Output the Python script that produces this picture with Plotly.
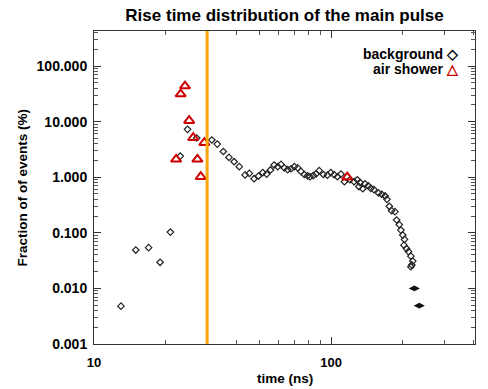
import plotly.graph_objects as go

# background (open diamonds)
bg_time = [13.0, 15.0, 17.0, 19.0, 21.0, 23.1, 24.8, 27.1, 31.4, 33.1, 35.1, 37.1, 39.0, 41.0,
           43.4, 45.2, 47.3, 49.4, 51.5, 53.5, 55.5, 57.5, 59.6, 61.5, 63.5, 65.6, 67.8, 70.0,
           72.3, 74.6, 77.1, 79.6, 81.5, 84.1, 86.5, 89.1, 92.8, 96.5, 99.7, 103, 106.4, 110,
           113.8, 120, 125, 129, 132.5, 131, 136, 139, 143.5, 147, 151.6, 158.5, 163.7, 169,
           172, 176, 180, 186, 189, 194, 197, 200.6, 204, 203, 208, 212, 217, 221, 219, 217]
bg_frac = [0.0048, 0.049, 0.054, 0.0295, 0.103, 2.4, 7.27, 5.07, 4.67, 3.95, 2.9, 2.27, 1.9, 1.55,
           1.10, 1.17, 0.94, 1.05, 1.21, 1.14, 1.35, 1.66, 1.55, 1.70, 1.47, 1.37, 1.42, 1.55,
           1.47, 1.27, 1.12, 1.06, 1.02, 1.07, 1.15, 1.31, 1.12, 1.09, 1.21, 1.11, 1.02, 1.14,
           0.83, 0.90, 0.83, 0.90, 0.80, 0.68, 0.62, 0.76, 0.70, 0.63, 0.60, 0.52, 0.49, 0.46,
           0.40, 0.30, 0.25, 0.24, 0.17, 0.14, 0.112, 0.091, 0.076, 0.060, 0.052, 0.046, 0.038, 0.031,
           0.0264, 0.0245]
# saturated (overlapping) background points
bg_dense_time = [224.5, 235.5]
bg_dense_frac = [0.010, 0.0049]

# air shower (open triangles)
as_time = [24.2, 23.2, 25.2, 26.2, 29.2, 22.2, 27.3, 28.2, 117]
as_frac = [43.6, 31.3, 10.4, 5.13, 4.17, 2.1, 2.1, 1.02, 1.0]

cut_time = 30

x_tick_vals = [10, 100]
y_tick_vals = [0.001, 0.01, 0.1, 1, 10, 100]

FONT = "Liberation Sans"

fig = go.Figure()
fig.add_trace(go.Scatter(x=bg_time, y=bg_frac, mode="markers",
                         marker=dict(symbol="diamond-open", size=5, color="#222",
                                     line=dict(width=1.2, color="#222")),
                         showlegend=False))
fig.add_trace(go.Scatter(x=bg_dense_time, y=bg_dense_frac, mode="markers",
                         marker=dict(symbol="diamond-wide", size=8, color="#111"),
                         showlegend=False))
fig.add_trace(go.Scatter(x=as_time, y=as_frac, mode="markers",
                         marker=dict(symbol="triangle-up-open", size=9, color="#cc0000",
                                     line=dict(width=2, color="#cc0000")),
                         showlegend=False))

fig.add_shape(type="line", x0=cut_time, x1=cut_time, xref="x", yref="paper", y0=0, y1=1,
              line=dict(color="#FFA500", width=3))

axis_common = dict(showgrid=False, zeroline=False, showline=True, linecolor="#333",
                   linewidth=1, mirror="ticks", ticks="inside", ticklen=7, tickcolor="#333",
                   minor=dict(ticks="inside", ticklen=4, tickcolor="#555", dtick="D1"))

fig.update_layout(
    width=488, height=389, margin=dict(l=94, r=13, t=31, b=45),
    paper_bgcolor="white", plot_bgcolor="white",
    title=dict(text="Rise time distribution of the main pulse", x=0.583, xanchor="center",
               y=0.962, yanchor="middle",
               font=dict(family=FONT, size=17, weight="bold", color="black")),
    xaxis=dict(type="log", range=[1, 2.607], tickvals=x_tick_vals, tickformat="d",
               ticklabelstandoff=6,
               tickfont=dict(family=FONT, size=13, weight="bold", color="black"),
               **axis_common),
    yaxis=dict(type="log", range=[-3, 2.63], tickvals=y_tick_vals, tickformat=".3f",
               tickfont=dict(family=FONT, size=14, weight="bold", color="black"),
               ticklabelstandoff=3,
               **axis_common),
    showlegend=False,
)

fig.add_annotation(text="time (ns)", xref="paper", yref="paper", x=0.5, y=0, yshift=-34,
                   showarrow=False, yanchor="middle",
                   font=dict(family=FONT, size=13.5, weight="bold", color="black"))
fig.add_annotation(text="Fraction of of events (%)", xref="paper", yref="paper", x=0, xshift=-72,
                   y=0.5, textangle=-90, showarrow=False, xanchor="center",
                   font=dict(family=FONT, size=13.5, weight="bold", color="black"))
fig.add_annotation(text="30 ns", xref="x", yref="paper", x=cut_time, xshift=-4, y=0, yshift=-19,
                   showarrow=False, yanchor="middle",
                   font=dict(family="Liberation Serif", size=24, weight="bold", color="#FF3300"))
fig.add_annotation(text="background \u25C7", xref="paper", yref="paper", x=1, xshift=-14,
                   y=1, yshift=-23, xanchor="right", yanchor="middle", showarrow=False,
                   font=dict(family=FONT, size=14, weight="bold", color="black"))
fig.add_annotation(text="air shower <span style='color:#cc0000'>\u25B3</span>", xref="paper",
                   yref="paper", x=1, xshift=-14, y=1, yshift=-38, xanchor="right",
                   yanchor="middle", showarrow=False,
                   font=dict(family=FONT, size=14, weight="bold", color="black"))

fig.write_html("out.html")
